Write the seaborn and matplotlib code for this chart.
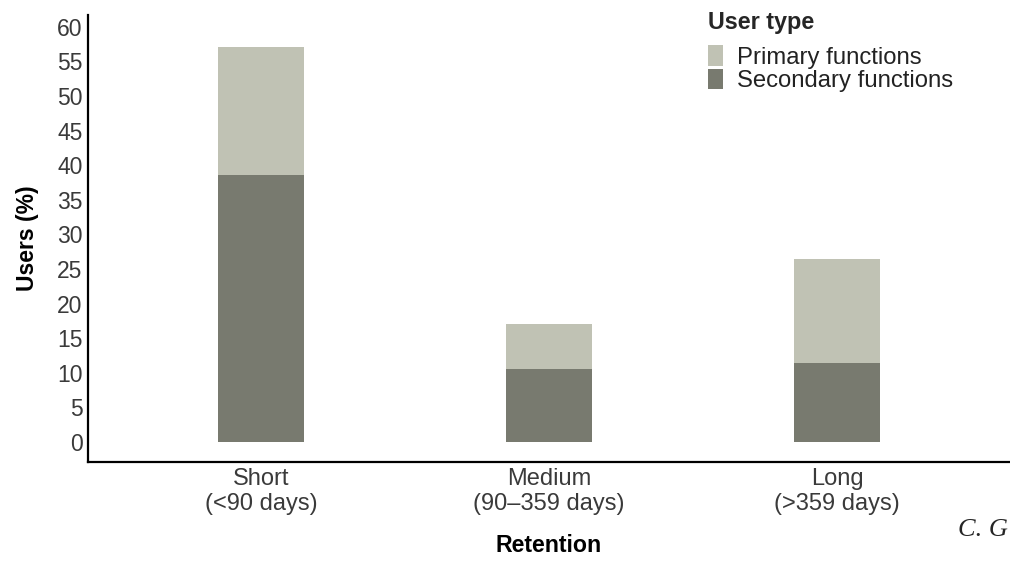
import matplotlib
matplotlib.use("Agg")
import matplotlib.pyplot as plt
import seaborn as sns
import pandas as pd

categories = ["Short\n(<90 days)", "Medium\n(90\u2013359 days)", "Long\n(>359 days)"]
secondary = [38.6, 10.5, 11.4]
primary = [18.4, 6.5, 15.0]
yticks = list(range(0, 61, 5))
legend_title = "User type"
series_names = ["Primary functions", "Secondary functions"]

c_primary = "#C0C2B4"
c_secondary = "#787A6F"

sns.set_theme(style="white")
plt.rcParams["font.family"] = ["Liberation Sans", "DejaVu Sans"]

df = pd.DataFrame({
    "Retention": categories,
    "Secondary": secondary,
    "Total": [p + s for p, s in zip(primary, secondary)],
})

fig = plt.figure(figsize=(10.1, 5.63), dpi=100)
ax = fig.add_axes([0.0871, 0.1794, 0.9129, 0.794])

sns.barplot(data=df, x="Retention", y="Total", color=c_primary, width=0.3,
            saturation=1, errorbar=None, linewidth=0, label=series_names[0], ax=ax)
sns.barplot(data=df, x="Retention", y="Secondary", color=c_secondary, width=0.3,
            saturation=1, errorbar=None, linewidth=0, label=series_names[1], ax=ax)

ax.set_xlim(-0.6, 2.6)
ax.set_ylim(-2.9, 61.7)
ax.set_yticks(yticks)
ax.set_yticklabels([str(t) for t in yticks], fontsize=16.5, color="#3a3a3a")
ax.tick_params(axis="both", length=0)
ax.tick_params(axis="y", pad=4)
ax.tick_params(axis="x", pad=4)
for lab in ax.get_xticklabels():
    lab.set_fontsize(17)
    lab.set_color("#3a3a3a")

ax.set_xlabel("Retention", fontsize=16.7, fontweight="bold", labelpad=14, color="black")
ax.set_ylabel("Users (%)", fontsize=16.5, fontweight="bold", labelpad=13, color="black")

for s in ["top", "right"]:
    ax.spines[s].set_visible(False)
for s in ["left", "bottom"]:
    ax.spines[s].set_color("black")
    ax.spines[s].set_linewidth(1.6)

leg = ax.legend(title=legend_title, loc="upper left",
                bbox_to_anchor=(708 / 1010, 1 - 11 / 563), bbox_transform=fig.transFigure,
                frameon=False, fontsize=17.2, title_fontproperties={"weight": "bold", "size": 16.8},
                handlelength=0.63, handleheight=0.95, handletextpad=0.6, labelspacing=0.0,
                borderpad=0, borderaxespad=0)
leg._legend_box.align = "left"
leg._legend_box.sep = 8
for t in leg.get_texts():
    t.set_color("#222222")

fig.text(958 / 1010, 1 - 530 / 563, "C. G", family=["Liberation Serif", "DejaVu Serif"],
         style="italic", fontsize=19, va="center", ha="left")

fig.savefig("out.png", dpi=100)
